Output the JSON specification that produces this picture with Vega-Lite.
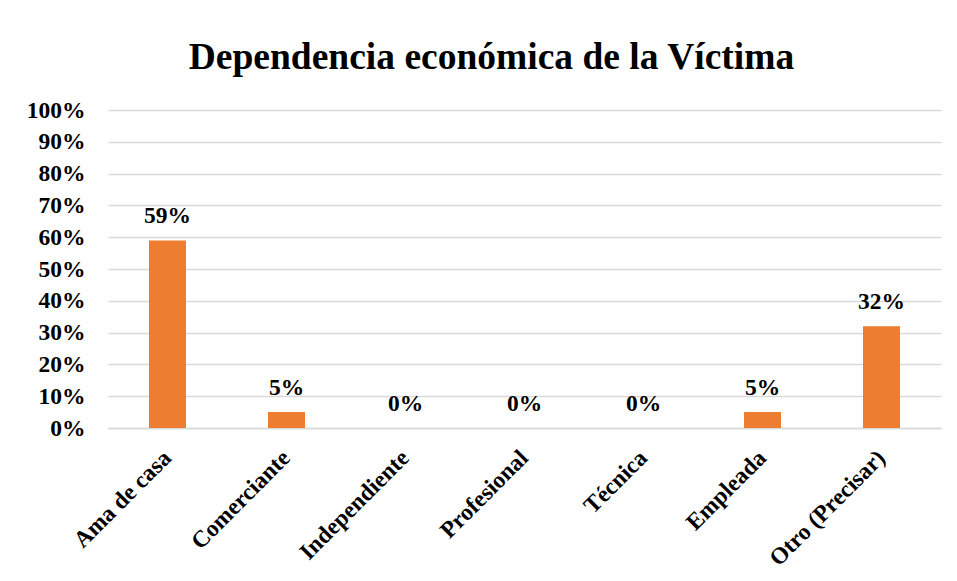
{
  "$schema": "https://vega.github.io/schema/vega-lite/v6.json",
  "width": 833,
  "height": 318,
  "autosize": "none",
  "padding": {"left": 108, "top": 110, "right": 16, "bottom": 153},
  "background": "white",
  "title": {
    "text": "Dependencia económica de la Víctima",
    "font": "Liberation Serif",
    "fontSize": 37.5,
    "fontWeight": "bold",
    "color": "#000000",
    "anchor": "middle",
    "dx": -33,
    "offset": 22
  },
  "data": {
    "values": [
      {"cat": "Ama de casa", "val": 0.59},
      {"cat": "Comerciante", "val": 0.05},
      {"cat": "Independiente", "val": 0},
      {"cat": "Profesional", "val": 0},
      {"cat": "Técnica", "val": 0},
      {"cat": "Empleada", "val": 0.05},
      {"cat": "Otro (Precisar)", "val": 0.32}
    ]
  },
  "encoding": {
    "x": {
      "field": "cat",
      "type": "nominal",
      "sort": null,
      "scale": {"paddingInner": 0, "paddingOuter": 0},
      "axis": {
        "title": null,
        "labelAngle": -45,
        "labelAlign": "right",
        "labelBaseline": "middle",
        "labelFont": "Liberation Serif",
        "labelFontSize": 23.5,
        "labelFontWeight": "bold",
        "labelColor": "#000000",
        "labelPadding": 26,
        "ticks": false,
        "domainColor": "#D9D9D9",
        "domainWidth": 1.5
      }
    },
    "y": {
      "field": "val",
      "type": "quantitative",
      "scale": {"domain": [0, 1]},
      "axis": {
        "title": null,
        "format": ".0%",
        "values": [0, 0.1, 0.2, 0.3, 0.4, 0.5, 0.6, 0.7, 0.8, 0.9, 1],
        "labelFont": "Liberation Serif",
        "labelFontSize": 23.5,
        "labelFontWeight": "bold",
        "labelColor": "#000000",
        "labelPadding": 23,
        "ticks": false,
        "domain": false,
        "gridColor": "#D9D9D9",
        "gridWidth": 1.5
      }
    }
  },
  "layer": [
    {
      "mark": {"type": "bar", "color": "#ED7D31", "width": 37}
    },
    {
      "mark": {
        "type": "text",
        "baseline": "alphabetic",
        "dy": -17,
        "font": "Liberation Serif",
        "fontSize": 23.5,
        "fontWeight": "bold",
        "color": "#000000"
      },
      "encoding": {
        "text": {"field": "val", "type": "quantitative", "format": ".0%"}
      }
    }
  ],
  "config": {
    "view": {"stroke": null}
  }
}
